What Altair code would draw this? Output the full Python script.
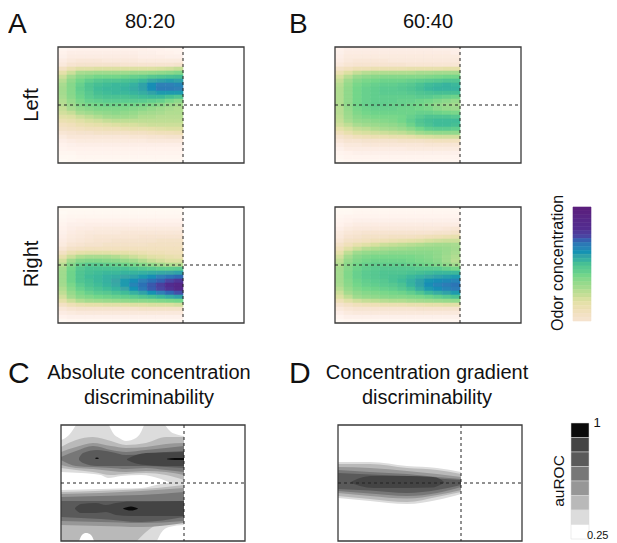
import altair as alt
import pandas as pd

A_LEFT = [
[3,4,5,5,5,5,5,5,5,5,4,4,3,3],
[5,7,7,7,7,7,7,7,7,6,6,5,5,4],
[6,8,8,8,8,8,8,8,8,7,7,7,6,6],
[8,10,11,11,11,10,10,10,10,9,9,9,9,9],
[10,13,14,14,14,14,14,13,13,13,13,13,13,14],
[16,20,23,23,24,24,24,24,24,24,24,25,26,28],
[22,27,32,33,34,34,34,34,35,35,36,37,38,40],
[27,33,38,40,42,42,42,43,44,45,47,48,49,50],
[30,37,42,45,47,48,48,49,50,52,56,58,59,58],
[32,39,44,48,50,51,52,52,54,58,63,66,66,65],
[33,39,45,48,51,52,52,53,55,58,63,67,67,66],
[33,39,44,47,50,51,52,52,53,55,58,60,60,60],
[32,38,43,46,48,49,49,49,50,51,52,52,50,48],
[31,36,41,44,45,46,46,46,46,46,45,44,41,38],
[30,34,39,41,42,43,43,42,42,41,40,38,35,33],
[28,32,36,38,40,40,40,40,39,38,36,34,32,31],
[26,28,32,34,36,37,38,37,36,34,33,32,31,31],
[23,24,27,29,31,33,34,34,33,31,31,30,30,30],
[20,21,23,25,26,28,29,29,29,29,29,29,29,29],
[17,18,20,21,22,23,24,25,25,26,27,27,27,27],
[15,16,17,18,18,19,19,20,21,21,22,23,24,24],
[12,13,14,14,15,15,15,15,16,16,17,18,18,19],
[9,11,11,11,11,11,11,11,12,12,13,13,14,14],
[7,8,9,9,9,9,9,9,9,9,10,10,10,10],
[5,6,7,7,7,7,7,7,7,7,7,7,7,7],
[4,5,5,5,5,5,5,5,5,5,5,5,5,5],
[3,3,4,4,4,4,4,4,4,4,4,4,4,4],
[2,2,3,3,3,3,3,3,3,3,3,3,3,3],
[1,2,2,2,2,2,2,2,2,2,2,2,2,2],
]
A_RIGHT = [
[1,1,1,1,1,1,1,1,1,1,1,1,1,1],
[1,2,2,2,2,2,2,2,2,2,2,2,2,2],
[2,3,3,3,3,3,3,3,3,3,3,3,3,3],
[3,4,5,5,5,5,5,5,5,5,5,5,5,5],
[4,6,6,7,7,7,7,7,7,7,7,7,7,7],
[5,7,8,8,9,9,9,9,9,9,9,9,9,9],
[6,8,9,10,10,10,10,11,11,11,11,11,11,11],
[7,9,10,11,12,12,12,12,12,13,13,13,13,13],
[8,10,11,12,13,13,14,14,14,14,14,15,15,15],
[9,12,13,14,14,15,15,15,15,15,16,16,16,16],
[12,15,16,17,17,17,17,17,17,17,17,17,17,17],
[16,20,22,23,23,23,22,22,21,20,19,19,18,18],
[21,27,31,32,32,32,31,29,27,25,23,22,21,20],
[26,34,39,40,40,39,38,36,34,31,28,26,24,24],
[30,39,44,46,46,45,44,43,41,39,36,33,31,30],
[33,42,47,49,49,49,49,49,48,47,46,45,45,46],
[34,43,48,50,51,52,52,53,53,54,55,56,57,58],
[34,43,48,51,52,54,55,57,58,60,63,66,69,72],
[34,43,48,50,52,54,57,60,63,66,70,74,80,85],
[33,41,46,49,51,53,56,60,65,70,76,82,88,93],
[31,39,44,47,49,51,53,57,62,68,75,80,86,92],
[29,36,41,44,46,47,49,51,54,58,62,66,72,78],
[26,33,38,40,42,43,44,45,46,48,50,52,55,58],
[22,27,31,33,34,35,36,37,38,38,39,40,41,42],
[16,19,21,22,22,23,23,23,24,24,25,25,25,26],
[11,13,14,14,14,14,14,14,14,15,15,15,15,15],
[8,9,10,10,10,10,10,10,10,10,10,10,10,10],
[5,6,6,6,6,6,6,6,6,6,6,6,6,6],
[2,3,3,3,3,3,3,3,3,3,3,3,3,3],
]
B_LEFT = [
[5,7,7,7,7,7,7,7,7,7,7,6,6,6],
[6,8,8,8,8,8,8,8,8,8,8,8,8,7],
[7,9,9,9,9,9,9,9,9,9,9,9,9,9],
[8,10,11,11,11,11,10,10,10,10,10,10,10,10],
[10,12,13,13,13,13,13,13,12,12,12,12,12,12],
[15,17,19,19,20,20,20,20,21,21,21,21,22,22],
[20,24,28,30,31,31,31,31,31,32,32,33,33,33],
[25,30,35,37,38,39,39,39,39,39,40,41,42,42],
[28,34,39,41,42,43,43,43,44,45,46,47,48,48],
[30,36,41,43,44,45,45,46,47,49,51,52,53,52],
[31,37,42,44,45,46,46,47,48,50,52,53,53,53],
[31,37,42,44,45,46,46,46,47,48,49,50,50,50],
[31,37,42,44,45,45,45,45,45,46,46,45,44,43],
[31,37,42,44,45,45,45,44,44,43,42,40,38,36],
[31,37,42,44,45,45,44,44,43,42,40,37,35,33],
[30,36,41,43,44,44,44,43,43,42,41,38,36,35],
[30,35,40,42,43,43,43,43,43,44,44,43,42,41],
[29,34,38,40,41,41,41,42,44,46,48,48,48,47],
[28,32,36,37,38,39,40,42,45,48,50,51,51,51],
[26,29,32,34,35,36,37,39,43,47,49,51,51,50],
[22,25,28,29,31,32,33,35,38,42,45,46,46,45],
[18,21,24,25,26,27,28,29,31,34,36,37,37,37],
[14,16,18,19,20,20,21,21,22,24,25,26,26,26],
[11,13,13,14,14,14,14,15,15,15,16,17,17,17],
[8,10,10,11,11,11,11,11,11,11,12,12,12,12],
[6,8,8,8,8,8,8,8,9,9,9,9,9,9],
[4,5,6,6,6,6,6,6,6,6,6,6,6,6],
[3,4,4,4,4,4,4,4,4,4,4,4,4,4],
[2,3,3,3,3,3,3,3,3,3,3,3,3,3],
]
B_RIGHT = [
[1,1,2,2,2,2,2,2,2,2,2,2,2,2],
[2,2,3,3,3,3,3,3,3,3,3,3,3,3],
[3,4,4,4,4,4,4,4,4,4,4,4,4,4],
[4,5,6,6,6,6,6,6,6,6,6,6,6,6],
[5,7,8,8,8,8,8,8,8,8,8,8,8,8],
[7,9,10,10,10,10,10,10,10,10,10,10,11,12],
[9,11,12,13,13,13,13,13,13,13,13,14,14,15],
[10,13,14,15,15,15,16,16,16,17,18,19,20,21],
[12,15,16,17,18,19,20,21,22,23,25,26,27,27],
[15,18,21,23,25,27,28,29,30,31,32,33,33,32],
[18,23,27,30,31,32,33,34,35,36,36,36,35,33],
[22,29,34,36,37,37,38,38,38,38,38,37,35,32],
[26,33,38,40,41,41,41,41,41,40,39,37,34,31],
[29,36,40,42,43,43,43,43,42,41,40,38,34,30],
[31,38,42,44,45,45,45,45,44,43,42,40,37,33],
[33,39,43,45,46,47,47,47,47,46,46,46,44,42],
[33,40,44,46,47,48,48,48,49,50,51,52,52,52],
[33,40,44,46,47,48,49,50,52,54,56,58,59,60],
[33,39,43,45,46,47,49,51,54,58,61,63,64,65],
[32,38,42,44,45,46,47,49,53,58,63,65,67,69],
[30,36,40,42,43,44,45,47,50,55,60,63,65,67],
[27,33,37,39,40,41,42,43,45,48,52,55,58,60],
[24,29,34,36,37,38,39,39,40,41,43,45,47,49],
[19,23,26,28,29,30,31,31,32,33,34,35,36,37],
[14,16,18,19,19,20,20,20,21,21,22,22,23,23],
[10,12,13,13,13,13,13,13,13,14,14,14,14,14],
[7,9,10,10,10,10,10,10,10,10,10,10,10,10],
[4,6,6,6,6,6,6,6,6,6,6,6,6,6],
[2,3,3,3,3,3,3,3,3,3,3,3,3,3],
]
ODOR_BAR = [100,98,95,92,90,88,84,80,74,68,65,62,58,54,50,47,45,42,39,36,33,30,28,25,22,20,18,16,14]
HEAT_STOPS = [0,6,14,25,32,42,50,57,66,80,88,100]
HEAT_COLORS = ["#ffffff","#fdf0ea","#f5e3cd","#d8e0a0","#a9dc90","#74d68a","#47bf94","#3aa5a5","#2f80b7","#4a46a3","#532c8f","#5a1f7d"]
LEVELS = ["0","1","2","3","4","5","6","7"]
GREYS = ["#ffffff","#dcdcdc","#b9b9b9","#979797","#777777","#5a5a5a","#444444","#0a0a0a"]

# contour bands: (level, x, upper edge, lower edge), painted in this order
C_BANDS = [
("1",[0,20,40,47,60,80,100,123],[0,0,0,0,0,0,0,0],[47,48,50,53,51,50,54,66]),
("0",[0,8,15],[0,0,0],[15,10,0]),
("0",[48,52,58,65,75,80,83],[0,0,0,0,0,0,0],[0,8,13,16,13,7,0]),
("0",[104,110,116,123],[0,0,0,0],[0,7,9.5,11]),
("2",[0,15,32,50,65,85,105,123],[22,15,12,16,20,18,12,12],[43,45,47,50,49,48,50,55]),
("3",[0,15,32,50,65,85,105,123],[27,22,18,21,23,22,19,18],[40,43,44,46,47,46,47,50]),
("4",[0,15,32,50,65,85,105,123],[32,26,21,25,27,25,23,21],[35,41,42,43,44,43,45,47]),
("5",[18,22,36,50,65,85,105,123],[33,28,25,27,30,29,27,26],[35,38,41,41,41,41,42,43]),
("6",[66,75,85,100,123],[34,30,28,27.5,27],[35,38.5,40,41,41]),
("7",[34,36,38],[33,32.5,33],[33.2,34,33.2]),
("7",[106,114,123],[33.8,33,33],[34.2,35,35]),
("1",[0,40,80,100,123],[65,64,63,59,55],[116,116,116,116,116]),
("2",[0,20,62,96,123],[67,66.5,65,63,60],[116,116,116,116,116]),
("1",[76,85,96,123],[116,107,100,97],[116,116,116,116]),
("0",[18,21,25,30,33],[116,110,108,110,116],[116,116,116,116,116]),
("0",[96,100,108,123],[116,108,102,100],[116,116,116,116]),
("3",[0,40,80,123],[69,68,66,63],[100,101,102,98]),
("4",[0,40,80,123],[72,71,70,67],[96,97,98,96]),
("5",[0,40,80,123],[76,76,76,76],[92,94,97,92]),
("6",[14,20,35,45,55,70,90,123],[83,79,78,80,78,76.5,76.5,76],[84,88,88,87,90,91,91,91]),
("7",[62,70,77],[83.5,81.5,83.5],[83.7,85.5,83.7]),
]
D_BANDS = [
("1",[0,32,69,99,123],[37,37,41,43,47],[73,76,79,75,69]),
("2",[0,32,69,99,123],[39,39,43,45,49],[71,74,77,72,67]),
("3",[0,32,69,99,123],[42,43,46,49,52],[68,71,73.5,70,65]),
("4",[0,32,69,99,123],[45,47,49,52,54],[66,68.5,71,68,62]),
("5",[0,32,69,99,123],[48,49.5,51,53.5,55],[64,65.5,68,65,60]),
("6",[13,22,36,70,95,102,106],[57,53,51,51,52,54,57],[58,61,63,63,62.5,60,58]),
]

FONT = "Liberation Sans"
CELL_COLOR = alt.Scale(domain=HEAT_STOPS, range=HEAT_COLORS)
GREY_SCALE = alt.Scale(domain=LEVELS, range=GREYS)
NCOL = len(A_LEFT[0])
NROW = len(A_LEFT)
NO_BORDER = alt.ViewBackground(stroke=None)


def label(text, x, y, size, angle=0, align="center"):
    return alt.Chart(alt.Data(values=[{}])).mark_text(
        text=text, font=FONT, fontSize=size, angle=angle, align=align,
        baseline="middle", color="#111").encode(x=alt.value(x), y=alt.value(y))


def lines_and_frame(x_scale, y_scale, xr, yr, xmid, ymid):
    df = pd.DataFrame([{"x0": xr[0], "x1": xr[1], "y0": yr[0], "y1": yr[1], "xm": xmid, "ym": ymid}])
    base = alt.Chart(df)
    frame = base.mark_rect(fill="transparent", stroke="#3a3a3a", strokeWidth=1.3).encode(
        x=alt.X("x0:Q", scale=x_scale, axis=None), x2="x1:Q",
        y=alt.Y("y0:Q", scale=y_scale, axis=None), y2="y1:Q")
    v = base.mark_rule(color="#222", strokeWidth=1, strokeDash=[3, 3]).encode(
        x=alt.X("xm:Q", scale=x_scale, axis=None),
        y=alt.Y("y0:Q", scale=y_scale, axis=None), y2="y1:Q")
    h = base.mark_rule(color="#222", strokeWidth=1, strokeDash=[3, 3]).encode(
        y=alt.Y("ym:Q", scale=y_scale, axis=None),
        x=alt.X("x0:Q", scale=x_scale, axis=None), x2="x1:Q")
    return [frame, v, h]


def heat_panel(grid, view_w, *texts):
    rows = []
    for j, row in enumerate(grid):
        for i, val in enumerate(row):
            rows.append({"t0": i / NCOL, "t1": (i + 1) / NCOL,
                         "p0": 1 - 2 * j / NROW, "p1": 1 - 2 * (j + 1) / NROW, "v": val})
    xs = alt.Scale(domain=[0, 1.488], range=[0, 186], nice=False, zero=False)
    ys = alt.Scale(domain=[-1, 1], nice=False, zero=False)
    cells = alt.Chart(pd.DataFrame(rows)).mark_rect(strokeWidth=0.6).encode(
        x=alt.X("t0:Q", scale=xs, axis=None), x2="t1:Q",
        y=alt.Y("p0:Q", scale=ys, axis=None), y2="p1:Q",
        color=alt.Color("v:Q", scale=CELL_COLOR, legend=None),
        stroke=alt.Stroke("v:Q", scale=CELL_COLOR, legend=None))
    layers = [cells] + lines_and_frame(xs, ys, [0, 1.488], [-1, 1], 1, 0) + list(texts)
    return alt.layer(*layers).properties(width=view_w, height=116, view=NO_BORDER)


def contour_panel(bands, w, h, xrange_, yrange_, *texts):
    xs = alt.Scale(domain=[0, 184], range=xrange_, nice=False, zero=False)
    ys = alt.Scale(domain=[116, 0], range=yrange_, nice=False, zero=False)
    areas = []
    for lev, xs_, top, bot in bands:
        df = pd.DataFrame({"x": xs_, "a": top, "b": bot, "lev": lev})
        areas.append(alt.Chart(df).mark_area(interpolate="monotone").encode(
            x=alt.X("x:Q", scale=xs, axis=None),
            y=alt.Y("a:Q", scale=ys, axis=None), y2="b:Q",
            color=alt.Color("lev:N", scale=GREY_SCALE, legend=None)))
    layers = areas + lines_and_frame(xs, ys, [0, 184], [0, 116], 123, 58) + list(texts)
    return alt.layer(*layers).properties(width=w, height=h, view=NO_BORDER)


def odor_bar(*texts):
    df = pd.DataFrame([{"a": j, "b": j + 1, "v": v} for j, v in enumerate(ODOR_BAR)])
    bar = alt.Chart(df).mark_rect(strokeWidth=0.6).encode(
        x=alt.value(3), x2=alt.value(21),
        y=alt.Y("a:Q", scale=alt.Scale(domain=[len(ODOR_BAR), 0], range=[114, 0], nice=False, zero=False), axis=None), y2="b:Q",
        color=alt.Color("v:Q", scale=CELL_COLOR, legend=None),
        stroke=alt.Stroke("v:Q", scale=CELL_COLOR, legend=None))
    return alt.layer(bar, *texts).properties(width=21, height=116, view=NO_BORDER)


def auroc_bar(h, yrange_, *texts):
    df = pd.DataFrame([{"a": j, "b": j + 1, "lev": l} for j, l in enumerate(reversed(LEVELS))])
    bar = alt.Chart(df).mark_rect(stroke="#d8d8d8", strokeWidth=0.5).encode(
        x=alt.value(1), x2=alt.value(19),
        y=alt.Y("a:Q", scale=alt.Scale(domain=[8, 0], range=yrange_, nice=False, zero=False), axis=None), y2="b:Q",
        color=alt.Color("lev:N", scale=GREY_SCALE, legend=None))
    return alt.layer(bar, *texts).properties(width=21, height=h, view=NO_BORDER)


empty = alt.Chart(alt.Data(values=[{}])).mark_point(opacity=0).encode(
    x=alt.value(0), y=alt.value(0)).properties(width=21, height=116, view=NO_BORDER)

a1 = heat_panel(A_LEFT, 229,
                label("A", -50, -22, 28, align="left"),
                label("80:20", 92, -25, 20),
                label("Left", -26, 58, 20, angle=270))
b1 = heat_panel(B_LEFT, 187,
                label("B", -46, -22, 28, align="left"),
                label("60:40", 93, -25, 20))
a2 = heat_panel(A_RIGHT, 229, label("Right", -26, 57, 20, angle=270))
b2 = heat_panel(B_RIGHT, 187)
cb1 = odor_bar(label("Odor concentration", -12, 56, 16, angle=270))
c = contour_panel(C_BANDS, 229, 174, [3, 187], [174, 58],
                  label("C", -50, 7, 30, align="left"),
                  label("Absolute concentration", 91, 6, 20),
                  label("discriminability", 91, 31, 20))
d = contour_panel(D_BANDS, 187, 174, [3, 187], [174, 58],
                  label("D", -46, 7, 30, align="left"),
                  label("Concentration gradient", 92, 6, 20),
                  label("discriminability", 92, 31, 20))
cb2 = auroc_bar(174, [172, 56],
                label("auROC", -11, 114, 15.5, angle=270),
                label("1", 27, 56, 13),
                label("0.25", 17, 169, 11, align="left"))

chart = alt.concat(a1, b1, empty, a2, b2, cb1, c, d, cb2, columns=3, bounds="flush",
                   spacing=alt.RowColnumber(column=48, row=44)).properties(
    autosize=alt.AutoSizeParams(type="none"),
    padding={"left": 50, "top": 39, "right": 551, "bottom": 496},
    background="white")
chart.save("out.html", embed_options={"renderer": "svg", "actions": False})
